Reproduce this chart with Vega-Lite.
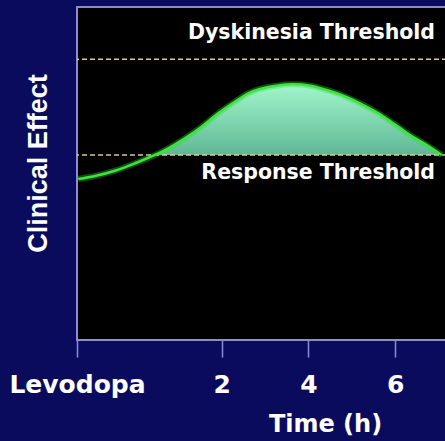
{
  "$schema": "https://vega.github.io/schema/vega-lite/v6.json",
  "autosize": "none",
  "width": 370,
  "height": 333,
  "padding": {"left": 77, "top": 7, "right": 0, "bottom": 101},
  "background": "#0b0b5e",
  "view": {"fill": "#000000", "stroke": "#8c8cd4", "strokeWidth": 2},
  "datasets": {
    "curve": [
      {"t": -1.31, "effect": 48.35},
      {"t": -0.925, "effect": 49.25},
      {"t": -0.464, "effect": 50.84},
      {"t": -0.002, "effect": 53.06},
      {"t": 0.46, "effect": 55.56},
      {"t": 0.766, "effect": 57.57},
      {"t": 1.151, "effect": 60.57},
      {"t": 1.536, "effect": 64.05},
      {"t": 1.919, "effect": 68.08},
      {"t": 2.304, "effect": 71.56},
      {"t": 2.611, "effect": 74.08},
      {"t": 2.881, "effect": 75.38},
      {"t": 3.266, "effect": 76.37},
      {"t": 3.649, "effect": 76.79},
      {"t": 4.035, "effect": 76.37},
      {"t": 4.42, "effect": 75.08},
      {"t": 4.803, "effect": 73.36},
      {"t": 5.188, "effect": 71.08},
      {"t": 5.573, "effect": 68.38},
      {"t": 5.956, "effect": 65.08},
      {"t": 6.341, "effect": 61.56},
      {"t": 6.727, "effect": 58.56},
      {"t": 7.073, "effect": 55.56}
    ],
    "thresholds": [
      {"name": "Dyskinesia Threshold", "level": 84.29},
      {"name": "Response Threshold", "level": 55.56}
    ]
  },
  "layer": [
    {
      "data": {"name": "curve"},
      "transform": [{"filter": "datum.t >= 0.46"}],
      "mark": {
        "type": "area",
        "interpolate": "monotone",
        "color": {
          "gradient": "linear",
          "x1": 0, "y1": 0, "x2": 0, "y2": 1,
          "stops": [
            {"offset": 0, "color": "#a2f5cc"},
            {"offset": 1, "color": "#5fb895"}
          ]
        }
      },
      "encoding": {
        "x": {
          "field": "t",
          "type": "quantitative",
          "scale": {"domain": [-1.34, 7.196], "nice": false, "zero": false},
          "axis": {
            "values": [-1.34, 2, 4, 6],
            "labelExpr": "datum.value < 0 ? 'Levodopa' : format(datum.value, 'd')",
            "domain": false,
            "grid": false,
            "tickSize": 17,
            "tickWidth": 1.5,
            "tickColor": "#8c8cd4",
            "labelFont": "DejaVu Sans",
            "labelFontWeight": "bold",
            "labelFontSize": 25,
            "labelColor": "#ffffff",
            "labelPadding": 15,
            "labelFlush": false,
            "labelOverlap": false,
            "title": "Time (h)",
            "titleFont": "DejaVu Sans",
            "titleFontWeight": "bold",
            "titleFontSize": 24,
            "titleColor": "#ffffff",
            "titleX": 248,
            "titleY": 72,
            "titleAlign": "center",
            "titleBaseline": "top"
          }
        },
        "y": {
          "field": "effect",
          "type": "quantitative",
          "scale": {"domain": [0, 100], "nice": false},
          "axis": {
            "domain": false,
            "grid": false,
            "ticks": false,
            "labels": false,
            "title": "Clinical Effect",
            "titleFont": "Liberation Sans",
            "titleFontWeight": "bold",
            "titleFontSize": 27,
            "titleColor": "#ffffff",
            "titleX": -39,
            "titleY": 156,
            "titleAngle": -90,
            "titleAlign": "center",
            "titleBaseline": "middle"
          }
        },
        "y2": {"datum": 55.56}
      }
    },
    {
      "data": {"name": "thresholds"},
      "mark": {"type": "rule", "color": "#d9cba0", "strokeWidth": 1.5, "strokeDash": [5, 3]},
      "encoding": {
        "y": {"field": "level", "type": "quantitative"}
      }
    },
    {
      "data": {"name": "curve"},
      "mark": {"type": "line", "interpolate": "monotone", "color": "#33dd33", "strokeWidth": 6, "opacity": 0.35},
      "encoding": {
        "x": {"field": "t", "type": "quantitative"},
        "y": {"field": "effect", "type": "quantitative"}
      }
    },
    {
      "data": {"name": "curve"},
      "mark": {"type": "line", "interpolate": "monotone", "color": "#3ee43e", "strokeWidth": 2.5},
      "encoding": {
        "x": {"field": "t", "type": "quantitative"},
        "y": {"field": "effect", "type": "quantitative"}
      }
    },
    {
      "data": {"name": "thresholds"},
      "transform": [{"filter": "datum.name == 'Dyskinesia Threshold'"}],
      "mark": {"type": "text", "align": "right", "baseline": "middle", "dy": -26, "font": "DejaVu Sans", "fontWeight": "bold", "fontSize": 20.5, "color": "#ffffff"},
      "encoding": {
        "x": {"datum": 6.92},
        "y": {"field": "level", "type": "quantitative"},
        "text": {"field": "name"}
      }
    },
    {
      "data": {"name": "thresholds"},
      "transform": [{"filter": "datum.name == 'Response Threshold'"}],
      "mark": {"type": "text", "align": "right", "baseline": "middle", "dy": 18.5, "font": "DejaVu Sans", "fontWeight": "bold", "fontSize": 20.5, "color": "#ffffff"},
      "encoding": {
        "x": {"datum": 6.92},
        "y": {"field": "level", "type": "quantitative"},
        "text": {"field": "name"}
      }
    }
  ]
}
